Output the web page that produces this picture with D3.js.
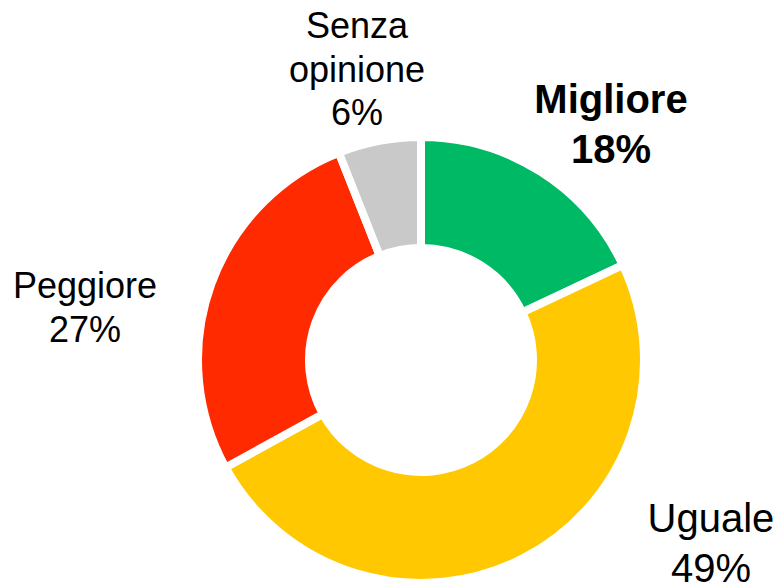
<!DOCTYPE html>
<html>
<head>
<meta charset="utf-8">
<script src="https://cdn.jsdelivr.net/npm/d3@7"></script>
<style>
  html, body { margin: 0; padding: 0; background: #fff; }
  svg { display: block; }
  text { font-family: "Liberation Sans", Arial, sans-serif; fill: #000; }
</style>
</head>
<body>
<svg id="chart" width="782" height="586"></svg>
<script>
// ---- data ----
const categories = ["Migliore", "Uguale", "Peggiore", "Senza opinione"];
const values = [18, 49, 27, 6];
const labelLines = [["Migliore", "18%"], ["Uguale", "49%"], ["Peggiore", "27%"], ["Senza", "opinione", "6%"]];
const colors = ["#00B964", "#FFC800", "#FF2A00", "#C9C9C9"];

// ---- layout (not data) ----
const cx = 421, cy = 360;
const outerR = 223, innerR = 112, gap = 8;
const labelLayout = [
  { x: 611, y: 113, size: 40, lh: 50, weight: "bold" },
  { x: 711, y: 532, size: 40, lh: 50, weight: "normal" },
  { x: 85,  y: 298, size: 36, lh: 44, weight: "normal" },
  { x: 357, y: 38,  size: 36, lh: 43.5, weight: "normal" }
];

const svg = d3.select("#chart");
const g = svg.append("g").attr("transform", `translate(${cx},${cy})`);

const pie = d3.pie().sort(null).value(d => d.v);
const arc = d3.arc().innerRadius(innerR).outerRadius(outerR);
const data = categories.map((c, i) => ({ c, v: values[i], i }));

g.selectAll("path.slice")
  .data(pie(data))
  .join("path")
  .attr("class", "slice")
  .attr("d", arc)
  .attr("fill", d => colors[d.data.i])
  .attr("stroke", "#fff")
  .attr("stroke-width", gap)
  .attr("stroke-linejoin", "miter");

const lbl = svg.selectAll("text.lbl")
  .data(data)
  .join("text")
  .attr("class", "lbl")
  .attr("text-anchor", "middle")
  .attr("font-size", d => labelLayout[d.i].size)
  .attr("font-weight", d => labelLayout[d.i].weight);

lbl.each(function(d) {
  const L = labelLayout[d.i];
  d3.select(this).selectAll("tspan")
    .data(labelLines[d.i])
    .join("tspan")
    .attr("x", L.x)
    .attr("y", (t, k) => L.y + k * L.lh)
    .text(t => t);
});
</script>
</body>
</html>
